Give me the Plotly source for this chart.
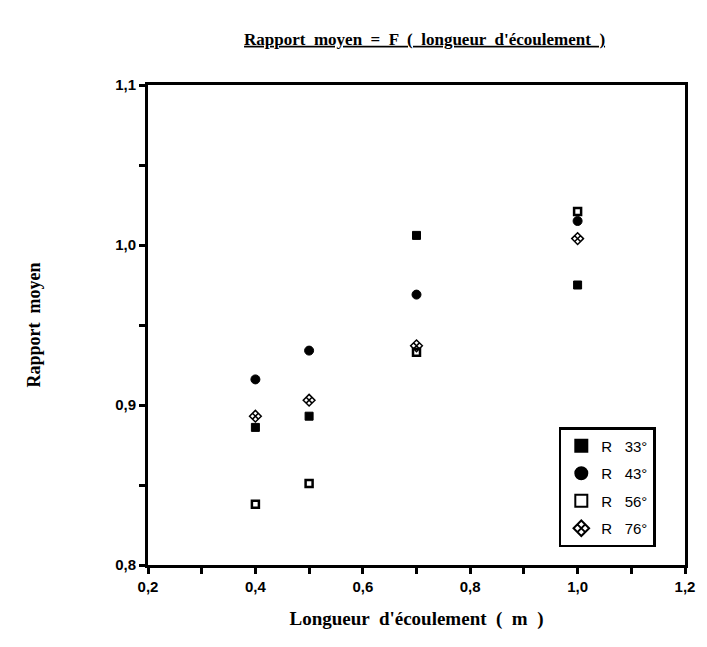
import plotly.graph_objects as go

# Data
x_33 = [0.4, 0.5, 0.7, 1.0]
y_33 = [0.886, 0.893, 1.006, 0.975]
x_43 = [0.4, 0.5, 0.7, 1.0]
y_43 = [0.916, 0.934, 0.969, 1.015]
x_56 = [0.4, 0.5, 0.7, 1.0]
y_56 = [0.838, 0.851, 0.933, 1.021]
x_76 = [0.4, 0.5, 0.7, 1.0]
y_76 = [0.893, 0.903, 0.937, 1.004]

names = ["R   33°", "R   43°", "R   56°", "R   76°"]
x_ticks = [0.2, 0.4, 0.6, 0.8, 1.0, 1.2]
y_ticks = [0.8, 0.9, 1.0, 1.1]

serif = "Liberation Serif, Times New Roman, serif"
sans = "Liberation Sans, Arial, sans-serif"

fig = go.Figure()
styles = [
    dict(symbol="square", size=8, color="black", line=dict(color="black", width=1)),
    dict(symbol="circle", size=9, color="black", line=dict(color="black", width=1)),
    dict(symbol="square-open", size=7, color="black", line=dict(color="black", width=2.5)),
    dict(symbol="diamond-x-open", size=9, color="black", line=dict(color="black", width=1.5)),
]
for i, (xs, ys) in enumerate([(x_33, y_33), (x_43, y_43), (x_56, y_56), (x_76, y_76)]):
    fig.add_trace(go.Scatter(x=xs, y=ys, mode="markers", name=names[i],
                             legendgroup=f"g{i}", marker=styles[i]))

fig.update_layout(
    width=707, height=647,
    margin=dict(l=148, r=18, t=85, b=82),
    paper_bgcolor="white", plot_bgcolor="white",
    separators=", ",
    showlegend=True,
    title=dict(text="<b>Rapport  moyen  =  F  (  longueur  d'écoulement  )</b>",
               font=dict(family=serif, size=17, color="black", lineposition="under"),
               x=0.515, xanchor="center", xref="paper", y=0.940, yanchor="middle"),
    legend=dict(x=0.765, y=0.2875, xanchor="left", yanchor="top",
                bordercolor="black", borderwidth=2.5, bgcolor="white",
                font=dict(family=sans, size=15, color="black"),
                tracegroupgap=5, itemsizing="constant", itemwidth=30),
    xaxis=dict(range=[0.2, 1.2], tickvals=x_ticks, tickformat=".1f",
               ticks="outside", ticklen=6, tickwidth=2.5, tickcolor="black",
               minor=dict(dtick=0.1, ticks="outside", ticklen=6, tickwidth=2.5, tickcolor="black"),
               showline=True, linewidth=3, linecolor="black", mirror=True,
               showgrid=False, zeroline=False,
               tickfont=dict(family=sans, size=15, color="black", weight="bold"),
               title=dict(text="<b>Longueur  d'écoulement  (  m  )</b>",
                          font=dict(family=serif, size=19, color="black"), standoff=18)),
    yaxis=dict(range=[0.8, 1.1], tickvals=y_ticks, tickformat=".1f",
               ticks="outside", ticklen=6, tickwidth=2.5, tickcolor="black",
               minor=dict(dtick=0.05, ticks="outside", ticklen=6, tickwidth=2.5, tickcolor="black"),
               showline=True, linewidth=3, linecolor="black", mirror=True,
               showgrid=False, zeroline=False,
               tickfont=dict(family=sans, size=15, color="black", weight="bold"),
               title=dict(text="<b>Rapport  moyen</b>",
                          font=dict(family=serif, size=18, color="black"), standoff=70)),
)

fig.write_html("out.html")
